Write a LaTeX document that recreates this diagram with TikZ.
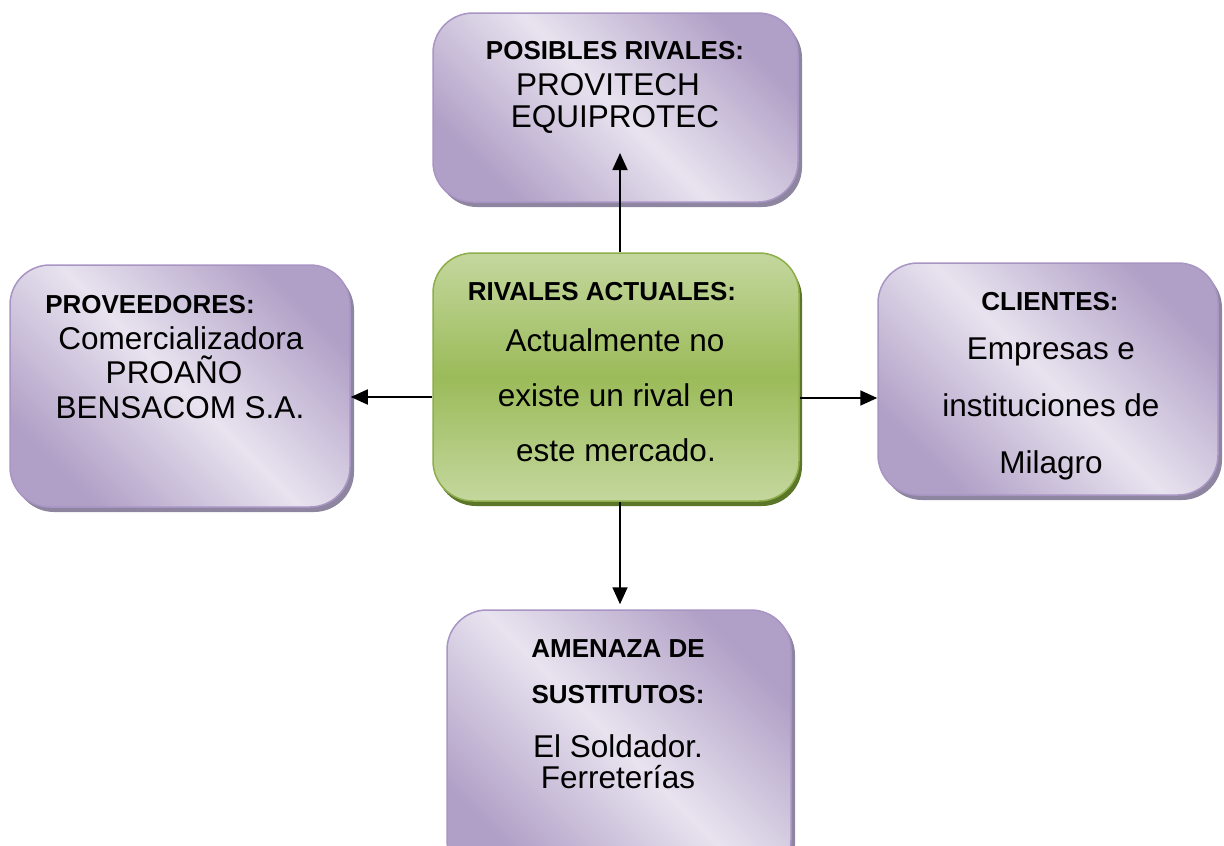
\documentclass[tikz,border=0pt]{standalone}
\usepackage{fontspec}
\setmainfont{Liberation Sans}
\usetikzlibrary{arrows.meta,shadows}
\definecolor{pLight}{HTML}{E8E3EF}
\definecolor{pDark}{HTML}{B09FC6}
\definecolor{pBorder}{HTML}{A895C3}
\definecolor{pShadow}{HTML}{8E86A0}
\definecolor{gLight}{HTML}{C4D79E}
\definecolor{gMid}{HTML}{9BBB59}
\definecolor{gBorder}{HTML}{8DAE4A}
\definecolor{gShadow}{HTML}{5C7629}
\tikzset{
  pbox/.style={draw=pBorder, line width=1.5pt, rounded corners=40pt, inner sep=0pt,
    shading=axis, left color=pDark, right color=pDark, middle color=pLight, shading angle=-45,
    drop shadow={shadow xshift=4pt, shadow yshift=-5pt, opacity=1, fill=pShadow}},
  gbox/.style={draw=gBorder, line width=1.5pt, rounded corners=40pt, inner sep=0pt,
    shading=axis, top color=gLight, bottom color=gLight, middle color=gMid,
    drop shadow={shadow xshift=3pt, shadow yshift=-5pt, opacity=1, fill=gShadow}},
  hd/.style={anchor=base, inner sep=0pt, font=\fontsize{26}{30}\selectfont\bfseries},
  tx/.style={anchor=base, inner sep=0pt, font=\fontsize{31.5}{36}\selectfont},
  arr/.style={line width=1.8pt, -{Triangle[length=17pt,width=15pt]}}
}
\begin{document}
\begin{tikzpicture}[x=1pt,y=-1pt]
\clip (0,0) rectangle (1224,846);
\useasboundingbox (0,0) rectangle (1224,846);
% boxes
\node[pbox, minimum width=365pt, minimum height=189pt] (top) at (615.5,107.5) {};
\node[gbox, minimum width=366pt, minimum height=248pt] (c) at (616,377) {};
\node[pbox, minimum width=340pt, minimum height=242pt] (l) at (180,386) {};
\node[pbox, minimum width=340pt, minimum height=232pt] (r) at (1048,379) {};
\node[pbox, minimum width=344pt, minimum height=270pt] (b) at (619,745) {};
% texts top
\node[hd] (t1) at (615,59) {POSIBLES RIVALES:};
\node[tx] (t2) at (608,95) {PROVITECH};
\node[tx] (t3) at (615,127) {EQUIPROTEC};
% center
\node[hd] (c1) at (602,300) {RIVALES ACTUALES:};
\node[tx] (c2) at (615,351) {Actualmente no};
\node[tx] (c3) at (616,406) {existe un rival en};
\node[tx] (c4) at (616,461) {este mercado.};
% left
\node[hd] (l1) at (150,313) {PROVEEDORES:};
\node[tx] (l2) at (181,349) {Comercializadora};
\node[tx] (l3) at (174,383) {PROAÑO};
\node[tx] (l4) at (180,418) {BENSACOM S.A.};
% right
\node[hd] (r1) at (1050,310) {CLIENTES:};
\node[tx] (r2) at (1051,359) {Empresas e};
\node[tx] (r3) at (1051,416) {instituciones de};
\node[tx] (r4) at (1051,473) {Milagro};
% bottom
\node[hd] (b1) at (618,657) {AMENAZA DE};
\node[hd] (b2) at (618,703) {SUSTITUTOS:};
\node[tx] (b3) at (618,757) {El Soldador.};
\node[tx] (b4) at (618,788) {Ferreterías};
% arrows
\coordinate (ut) at (620,153);
\draw[arr] ([xshift=4pt]c.north) -- (ut);
\draw[arr] ([yshift=-20pt]c.west) -- ([yshift=-20pt]c.west -| l.east);
\draw[arr] ([yshift=-21pt]c.east) -- ([yshift=-21pt]c.east -| r.west);
\draw[arr, shorten >=5pt] ([xshift=4pt]c.south) -- ([xshift=4pt]c.south |- b.north);
\end{tikzpicture}
\end{document}
